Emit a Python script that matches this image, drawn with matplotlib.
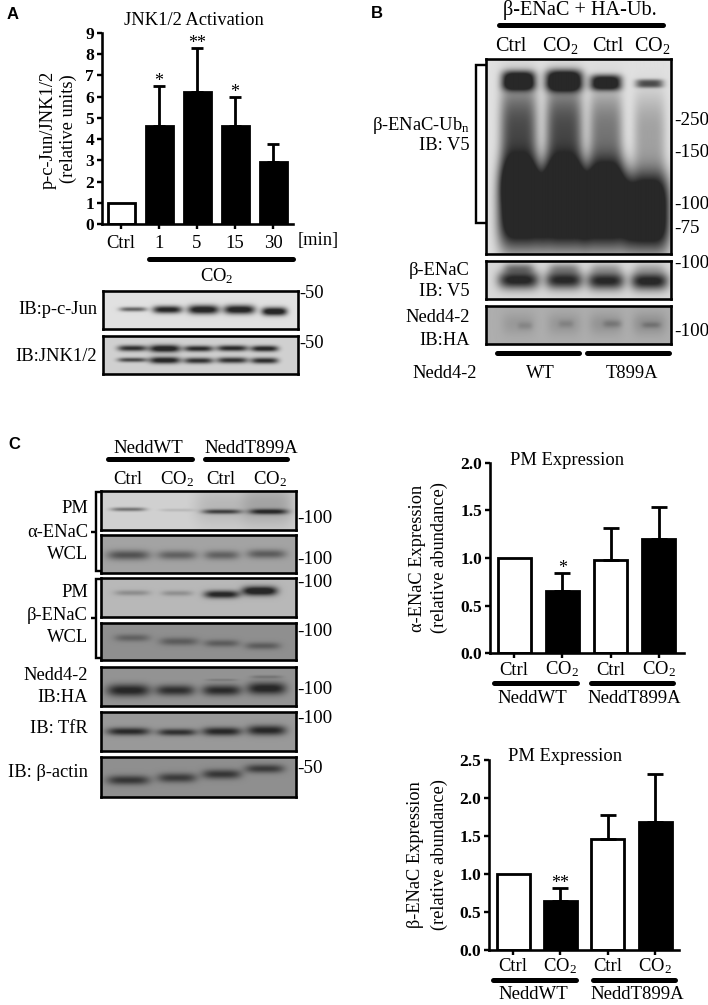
import numpy as np
import matplotlib
matplotlib.use('Agg')
import matplotlib.pyplot as plt

plt.rcParams['font.family'] = ['Liberation Serif', 'DejaVu Sans']
plt.rcParams['mathtext.fontset'] = 'custom'
plt.rcParams['mathtext.rm'] = 'Liberation Serif'
plt.rcParams['mathtext.it'] = 'Liberation Serif:italic'
plt.rcParams['mathtext.bf'] = 'Liberation Serif:bold'

W, H = 708, 1005
CO2 = 'CO$_2$'
FS = 13.3

# panel A bars
jnk_labels = ['Ctrl', '1', '5', '15', '30']
jnk_values = [1.0, 4.6, 6.2, 4.6, 2.9]
jnk_tops = [None, 6.5, 8.3, 6.0, 3.75]
jnk_stars = ['', '*', '**', '*', '']
jnk_fill = ['white', 'black', 'black', 'black', 'black']

# panel C bars
group_labels = ['Ctrl', CO2, 'Ctrl', CO2]
group_fill = ['white', 'black', 'white', 'black']
alpha_values = [1.0, 0.65, 0.98, 1.2]
alpha_tops = [None, 0.84, 1.32, 1.54]
alpha_stars = ['', '*', '', '']
beta_values = [1.0, 0.65, 1.46, 1.68]
beta_tops = [None, 0.82, 1.78, 2.32]
beta_stars = ['', '**', '', '']

# blot bands: centre x, centre y, half width, half height, darkness
jun_bands = [(.154, .48, .07, .06, .5), (.33, .49, .075, .1, .78), (.515, .49, .08, .12, .84),
             (.70, .49, .08, .12, .84), (.88, .54, .065, .11, .88)]
jnk_bands = [(.15, .32, .075, .08, .65), (.317, .33, .08, .1, .78), (.49, .33, .075, .08, .68),
             (.664, .32, .08, .08, .68), (.83, .33, .07, .08, .72),
             (.15, .63, .075, .06, .55), (.317, .64, .08, .09, .74), (.49, .65, .075, .08, .64),
             (.664, .64, .08, .08, .64), (.83, .65, .07, .08, .66)]
ub_bands = [(.175, .11, .09, .05, .9), (.175, .42, .1, .29, .6), (.19, .76, .125, .22, 1.05),
            (.42, .11, .10, .055, .95), (.42, .42, .1, .29, .6), (.42, .76, .125, .22, 1.05),
            (.645, .12, .085, .04, .85), (.645, .42, .09, .26, .42), (.645, .76, .125, .22, 1.05),
            (.88, .125, .075, .022, .55), (.88, .42, .085, .24, .25), (.87, .79, .12, .2, 1.05)]
v5_bands = [(.175, .5, .11, .24, .75), (.42, .5, .1, .24, .72), (.645, .52, .1, .24, .72),
            (.88, .53, .1, .24, .75), (.175, .18, .08, .14, .3), (.42, .18, .08, .14, .22),
            (.645, .18, .08, .14, .15), (.88, .18, .08, .14, .12)]
ha_bands = [(.175, .47, .09, .3, .08), (.42, .47, .09, .3, .09), (.645, .47, .09, .3, .1),
            (.88, .47, .09, .3, .12), (.21, .52, .04, .1, .08), (.43, .47, .04, .1, .08),
            (.68, .47, .05, .1, .12), (.89, .5, .05, .08, .12)]
pm_a_bands = [(.14, .47, .09, .05, .38), (.39, .49, .09, .04, .1), (.62, .53, .1, .06, .5),
              (.86, .53, .1, .07, .55), (.62, .4, .14, .5, .1), (.86, .35, .13, .55, .18)]
wcl_a_bands = [(.14, .53, .11, .13, .32), (.39, .53, .1, .12, .26), (.62, .53, .09, .12, .26),
               (.85, .5, .1, .12, .28)]
pm_b_bands = [(.16, .38, .09, .07, .17), (.39, .39, .08, .07, .16), (.62, .42, .09, .1, .62),
              (.815, .33, .09, .12, .72)]
wcl_b_bands = [(.16, .4, .09, .1, .18), (.40, .5, .1, .11, .2), (.62, .55, .09, .1, .2),
               (.83, .62, .09, .1, .2)]
ha2_bands = [(.14, .6, .11, .16, .45), (.38, .6, .1, .14, .4), (.62, .6, .1, .14, .42),
             (.85, .55, .1, .16, .46), (.62, .33, .08, .03, .1), (.85, .25, .08, .04, .12)]
tfr_bands = [(.14, .5, .11, .1, .45), (.39, .52, .1, .09, .42), (.62, .5, .1, .11, .46),
             (.85, .47, .1, .13, .46)]
actin_bands = [(.14, .58, .11, .12, .35), (.39, .52, .1, .12, .33), (.62, .43, .1, .12, .35),
               (.84, .29, .1, .11, .33)]


def px(v):
    return v * 0.72


fig = plt.figure(figsize=(W / 100, H / 100), dpi=100)
ov = fig.add_axes([0, 0, 1, 1], zorder=5)
ov.set_xlim(0, W)
ov.set_ylim(H, 0)
ov.axis('off')


def txt(x, y, s, size=FS, ha='center', **kw):
    ov.text(x, y, s, fontsize=size, ha=ha, va='center', **kw)


def thick(x0, x1, y, w=5):
    ov.plot([x0, x1], [y, y], color='black', lw=px(w), solid_capstyle='round')


def thin(xs, ys):
    ov.plot(xs, ys, color='black', lw=px(2.4), solid_capstyle='butt', solid_joinstyle='miter')


def blot(x0, x1, y0, y1, bg, bands, ypow=2):
    ax = fig.add_axes([x0 / W, 1 - y1 / H, (x1 - x0) / W, (y1 - y0) / H])
    nx, ny = int(x1 - x0) * 2, int(y1 - y0) * 2
    xx, yy = np.meshgrid(np.linspace(0, 1, nx), np.linspace(0, 1, ny))
    img = np.full((ny, nx), float(bg))
    for cx, cy, hw, hh, d in bands:
        img -= d * np.exp(-((xx - cx) / hw) ** 4) * np.exp(-np.abs((yy - cy) / hh) ** ypow)
    ax.imshow(np.clip(img, 0.16, 1), cmap='gray', vmin=0, vmax=1, aspect='auto', interpolation='bilinear')
    ax.set_xticks([])
    ax.set_yticks([])
    for s in ax.spines.values():
        s.set_linewidth(px(2.6))


def bars(left, right, bottom, top, first, step, ymax, yticks, ytick_labels, labels, values, tops, stars, fill, barw, cap, pad):
    ax = fig.add_axes([left / W, 1 - bottom / H, (right - left) / W, (bottom - top) / H], zorder=2)
    ax.patch.set_alpha(0)
    ax.set_xlim((left - first) / step, (right - first) / step)
    ax.set_ylim(0, ymax)
    xs = np.arange(len(values))
    ax.bar(xs, values, width=barw / step, color=fill, edgecolor='black', linewidth=px(2.8))
    for i in xs:
        if tops[i] is not None:
            ax.errorbar(i, values[i], yerr=[[0], [tops[i] - values[i]]], color='black',
                        elinewidth=px(2.8), capsize=px(cap), capthick=px(2.8))
        if stars[i]:
            ax.annotate(stars[i], (i, tops[i]), xytext=(0, -3), textcoords='offset points',
                        ha='center', va='bottom', fontsize=13)
    for s in ['top', 'right']:
        ax.spines[s].set_visible(False)
    for s in ['left', 'bottom']:
        ax.spines[s].set_linewidth(px(2.6))
    ax.set_yticks(yticks, ytick_labels, fontweight='bold', fontsize=12.5)
    ax.set_xticks(xs, labels, fontsize=13.4, va='baseline')
    ax.tick_params(axis='both', width=px(2.4), length=px(5))
    ax.tick_params(axis='x', pad=pad)
    ax.tick_params(axis='y', pad=px(3))
    return ax


# panel A
txt(13, 14, 'A', 12, fontweight='bold', family='Liberation Sans')
txt(194, 20, 'JNK1/2 Activation')
txt(48, 130, 'p-c-Jun/JNK1/2', rotation=90)
txt(68, 129, '(relative units)', rotation=90)
bars(102, 293, 224, 33, 121, 38, 9, list(range(10)), [str(i) for i in range(10)],
     jnk_labels, jnk_values, jnk_tops, jnk_stars, jnk_fill, 27, 6, 13.7)
txt(298, 240, '[min]', ha='left')
thick(149, 293, 259)
txt(217, 276, CO2)
blot(103, 298, 291, 329, .88, jun_bands)
blot(103, 298, 336, 374, .82, jnk_bands)
txt(97, 309, 'IB:p-c-Jun', ha='right')
txt(97, 356, 'IB:JNK1/2', ha='right')
txt(299, 293, '-50', ha='left')
txt(299, 343, '-50', ha='left')

# panel B
txt(377, 13, 'B', 12, fontweight='bold', family='Liberation Sans')
txt(580, 10, 'β-ENaC + HA-Ub.', 14.6)
thick(499, 663, 25)
for x, s in zip([511, 560, 608, 652], ['Ctrl', CO2, 'Ctrl', CO2]):
    ov.text(x, 51, s, fontsize=14.5, ha='center', va='baseline')
blot(486, 671, 59, 254, .88, ub_bands, ypow=3)
blot(486, 671, 261, 299, .85, v5_bands)
blot(486, 671, 306, 344, .68, ha_bands)
thin([486, 476, 476, 486], [65, 65, 223, 223])
txt(470, 125, 'β-ENaC-Ub$_\\mathrm{n}$', ha='right')
txt(470, 145, 'IB: V5', ha='right')
txt(470, 270, 'β-ENaC', ha='right')
txt(470, 291, 'IB: V5', ha='right')
txt(470, 317, 'Nedd4-2', ha='right')
txt(470, 340, 'IB:HA', ha='right')
for y, s in zip([120, 152, 204, 228, 263, 331], ['-250', '-150', '-100', '-75', '-100', '-100']):
    txt(674, y, s, 13.8, ha='left')
thick(497, 579, 353)
thick(587, 669, 353)
txt(412, 373, 'Nedd4-2', ha='left')
txt(540, 373, 'WT')
txt(632, 373, 'T899A')

# panel C blots
txt(14, 444, 'C', 12, fontweight='bold', family='Liberation Sans')
txt(148, 448, 'NeddWT', 13.5)
txt(251, 448, 'NeddT899A', 13.5)
thick(108, 192, 459)
thick(205, 287, 459)
for x, s in zip([128, 177, 221, 270], ['Ctrl', CO2, 'Ctrl', CO2]):
    ov.text(x, 484, s, fontsize=13.5, ha='center', va='baseline')
blot(101, 296, 491, 530, .82, pm_a_bands)
blot(101, 296, 535, 573, .64, wcl_a_bands)
blot(101, 296, 578, 617, .72, pm_b_bands)
blot(101, 296, 623, 660, .56, wcl_b_bands)
blot(101, 296, 667, 706, .58, ha2_bands)
blot(101, 296, 712, 751, .6, tfr_bands)
blot(101, 296, 757, 797, .56, actin_bands)
for y, s in zip([508, 532, 554, 592, 615, 637, 675, 697, 728, 772],
                ['PM', 'α-ENaC', 'WCL', 'PM', 'β-ENaC', 'WCL', 'Nedd4-2', 'IB:HA', 'IB: TfR', 'IB: β-actin']):
    txt(88, y, s, ha='right')
for y0, y1, ym in [(492, 571, 532), (579, 658, 618)]:
    thin([101, 96, 96, 101], [y0, y0, y1, y1])
    thin([91, 96], [ym, ym])
for y, s in zip([518, 559, 582, 631, 689, 718, 768], ['-100', '-100', '-100', '-100', '-100', '-100', '-50']):
    txt(297, y, s, 13.8, ha='left')

# panel C charts
txt(567, 460, 'PM Expression')
txt(418, 558, 'α-ENaC Expression', 13.2, rotation=90)
txt(439, 558, '(relative abundance)', 13.2, rotation=90)
bars(490, 684, 653, 463, 514, 48.3, 2.0, [0, .5, 1, 1.5, 2], ['0.0', '0.5', '1.0', '1.5', '2.0'],
     group_labels, alpha_values, alpha_tops, alpha_stars, group_fill, 33, 8, 12)
thick(494, 577, 683)
thick(591, 673, 683)
txt(532, 698, 'NeddWT', 13.5)
txt(634, 698, 'NeddT899A', 13.5)

txt(565, 756, 'PM Expression')
txt(416, 855, 'β-ENaC Expression', 13.2, rotation=90)
txt(439, 855, '(relative abundance)', 13.2, rotation=90)
bars(489, 679, 950, 760, 513, 47.4, 2.5, [0, .5, 1, 1.5, 2, 2.5], ['0.0', '0.5', '1.0', '1.5', '2.0', '2.5'],
     group_labels, beta_values, beta_tops, beta_stars, group_fill, 33, 8, 11.5)
thick(493, 576, 980)
thick(593, 675, 980)
txt(533, 994, 'NeddWT', 13.5)
txt(637, 994, 'NeddT899A', 13.5)

fig.savefig('out.png', dpi=100)
